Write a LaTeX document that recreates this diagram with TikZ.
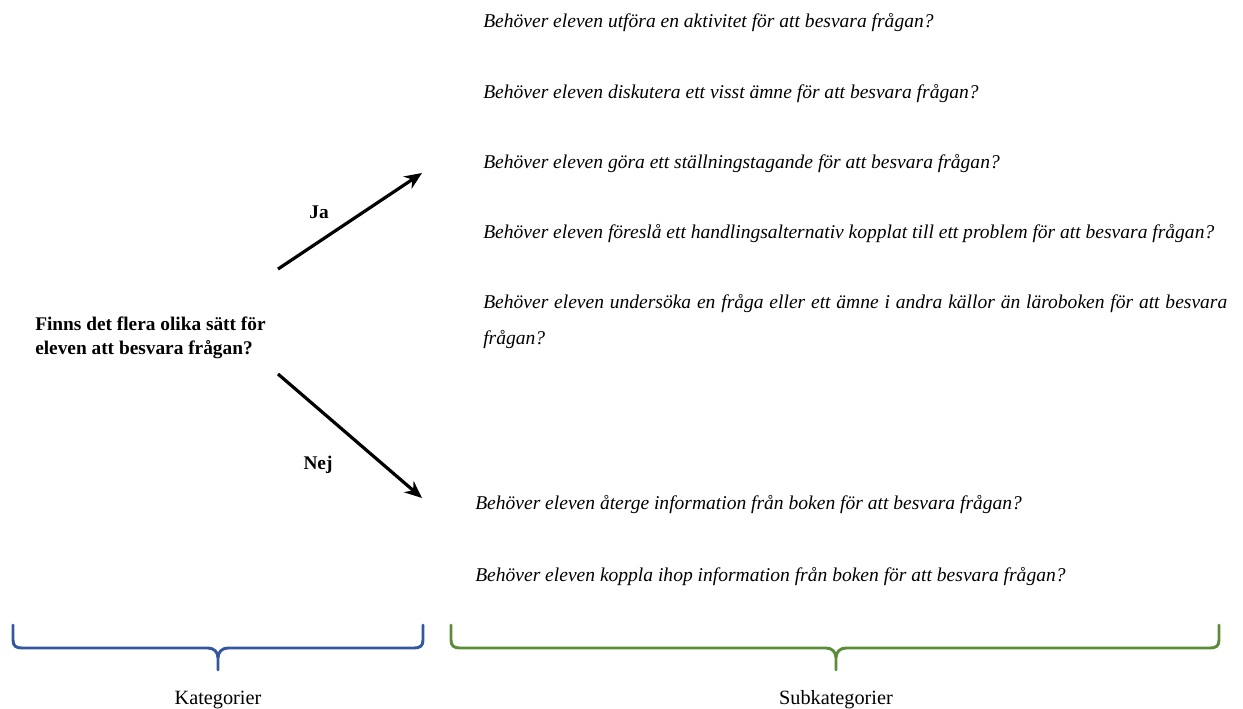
\documentclass[tikz,border=0pt]{standalone}
\usepackage{fontspec}
\setmainfont{Liberation Serif}
\usetikzlibrary{arrows.meta}
\definecolor{braceblue}{RGB}{52,88,160}
\definecolor{bracegreen}{RGB}{90,140,58}
\begin{document}
\begin{tikzpicture}[x=0.75pt,y=-0.75pt,
  q/.style={anchor=west,inner sep=0pt,font=\fontsize{14.65}{16}\selectfont\itshape},
  lead/.style={anchor=west,inner sep=0pt,align=left,font=\fontsize{14.5}{18}\selectfont\bfseries},
  lbl/.style={inner sep=0pt,font=\fontsize{14.5}{16}\selectfont\bfseries},
  cat/.style={inner sep=0pt,font=\fontsize{15.2}{16}\selectfont},
  arr/.style={line width=2.4pt,-{Stealth[length=13pt,width=11pt]}},
  brc/.style={line width=2.2pt,line join=round,line cap=round}]
\useasboundingbox (0,0) rectangle (1243,708);
% question
\node[lead] (main) at (35,338) {Finns det flera olika sätt för\\eleven att besvara frågan?};
% arrows
\coordinate (jaS) at (278,269);
\coordinate (jaE) at (422,173);
\coordinate (nejS) at (278,374);
\coordinate (nejE) at (422,498);
\draw[arr] (jaS) -- (jaE);
\draw[arr] (nejS) -- (nejE);
\node[lbl] (ja) at (319,212) {Ja};
\node[lbl] (nej) at (318,465) {Nej};
% yes subcategories
\node[q] (q1) at (483,23) {Behöver eleven utföra en aktivitet för att besvara frågan?};
\node[q] (q2) at (483,94) {Behöver eleven diskutera ett visst ämne för att besvara frågan?};
\node[q] (q3) at (483,164) {Behöver eleven göra ett ställningstagande för att besvara frågan?};
\node[q] (q4) at (483,234) {Behöver eleven föreslå ett handlingsalternativ kopplat till ett problem för att besvara frågan?};
\node[q] (q5) at (483,304) {\makebox[558pt][s]{Behöver eleven undersöka en fråga eller ett ämne i andra källor än läroboken för att besvara}};
\node[q] (q5b) at (483,340) {frågan?};
% no subcategories
\node[q] (q6) at (475,505) {Behöver eleven återge information från boken för att besvara frågan?};
\node[q] (q7) at (475,577) {Behöver eleven koppla ihop information från boken för att besvara frågan?};
% braces
\draw[brc,braceblue] (13,625) -- (13,640) .. controls (13,646) and (16,648) .. (22,648) -- (208,648)
  .. controls (214,648) and (218,652) .. (218,658) -- (218,670)
  (218,658) .. controls (218,652) and (222,648) .. (228,648) -- (414,648)
  .. controls (420,648) and (423,646) .. (423,640) -- (423,625);
\draw[brc,bracegreen] (451,625) -- (451,640) .. controls (451,646) and (454,648) .. (460,648) -- (826,648)
  .. controls (832,648) and (836,652) .. (836,658) -- (836,670)
  (836,658) .. controls (836,652) and (840,648) .. (846,648) -- (1210,648)
  .. controls (1216,648) and (1219,646) .. (1219,640) -- (1219,625);
\node[cat] (kat) at (218,700) {Kategorier};
\node[cat] (sub) at (836,700) {Subkategorier};
\end{tikzpicture}
\end{document}
